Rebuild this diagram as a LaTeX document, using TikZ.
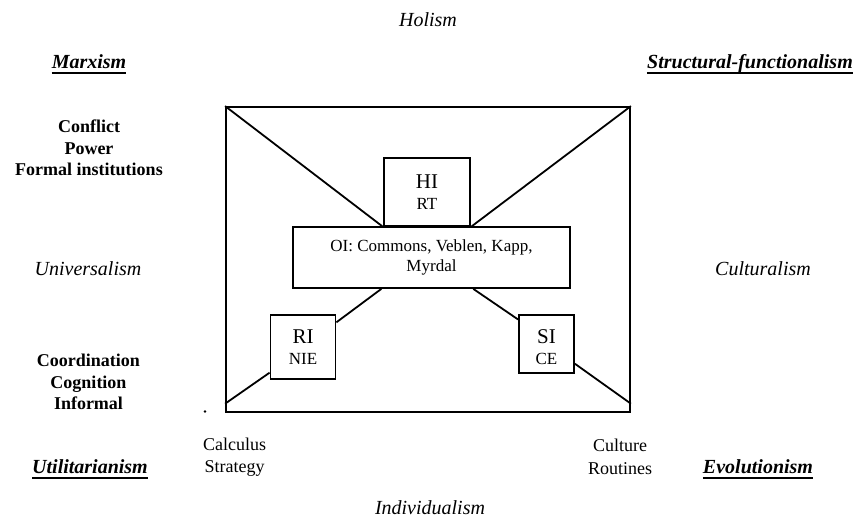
\documentclass[tikz,border=0pt]{standalone}
\usepackage{fontspec}
\setmainfont{Liberation Serif}
\usetikzlibrary{calc}
\tikzset{
  box/.style={draw, line width=1.8pt, inner sep=0pt, align=center},
  inbox/.style={box, font=\fontsize{21}{21}\selectfont},
  conn/.style={line width=1.8pt},
  axislabel/.style={inner sep=0pt, font=\fontsize{20}{24}\selectfont\itshape},
  school/.style={inner sep=0pt, anchor=base, font=\fontsize{20}{24}\selectfont\bfseries\itshape},
  feature/.style={inner sep=0pt, align=center, font=\fontsize{18}{21.5}\selectfont\bfseries},
  mech/.style={inner sep=0pt, align=center, font=\fontsize{18}{22.5}\selectfont}
}
\newcommand{\ulbelow}[1]{\draw[line width=2.2pt] ($(#1.base west)+(0,5)$) -- ($(#1.base east)+(0,5)$);}
\newcommand{\subtxt}[1]{{\fontsize{17}{21}\selectfont #1}}
\begin{document}
\begin{tikzpicture}[x=1pt,y=-1pt]
\useasboundingbox (0,0) rectangle (855,520);
% frame
\node[box, minimum width=404pt, minimum height=305pt] (frame) at (428,259.5) {};
% inner boxes
\node[inbox, minimum width=86pt, minimum height=68pt] (HI) at (427,192)
  {HI\\\subtxt{RT}};
\node[box, minimum width=277pt, minimum height=61pt, font=\fontsize{17}{20}\selectfont] (OI) at (431.5,257.5)
  {OI: Commons, Veblen, Kapp,\\Myrdal};
\node[inbox, minimum width=65pt, minimum height=64pt] (RI) at (303,347)
  {RI\\\subtxt{NIE}};
\node[inbox, minimum width=55pt, minimum height=58pt, text height=41pt] (SI) at (546.5,344)
  {SI\\\subtxt{CE}};
% connectors
\draw[conn] (frame.north west) -- (HI.south west);
\draw[conn] (frame.north east) -- (HI.south east);
\draw[conn] ($(OI.south west)!0.32!(OI.south east)$) -- ($(RI.north east)!0.125!(RI.south east)$);
\draw[conn] ($(RI.north west)!0.89!(RI.south west)$) -- ($(frame.north west)!0.97!(frame.south west)$);
\draw[conn] ($(OI.south west)!0.65!(OI.south east)$) -- ($(SI.north west)!0.09!(SI.south west)$);
\draw[conn] ($(SI.north east)!0.83!(SI.south east)$) -- ($(frame.north east)!0.97!(frame.south east)$);
\fill (205,411.5) circle (1.3pt);
% axis labels
\node[axislabel] (holism) at (428,20) {Holism};
\node[axislabel] (indiv) at (430,508) {Individualism};
\node[axislabel] (univ) at (88,269) {Universalism};
\node[axislabel] (cult) at (763,269) {Culturalism};
% schools
\node[school] (marx) at (89,68) {Marxism};
\node[school] (struct) at (750,68) {Structural-functionalism};
\node[school] (util) at (90,473) {Utilitarianism};
\node[school] (evol) at (758,473) {Evolutionism};
\ulbelow{marx}
\ulbelow{struct}
\ulbelow{util}
\ulbelow{evol}
% features
\node[feature] (f1) at (89,148) {Conflict\\Power\\Formal institutions};
\node[feature] (f2) at (88.5,382) {Coordination\\Cognition\\Informal};
% mechanisms
\node[mech] (m1) at (234.5,457) {Calculus\\Strategy};
\node[mech] (m2) at (620,457) {Culture\\Routines};
\end{tikzpicture}
\end{document}
